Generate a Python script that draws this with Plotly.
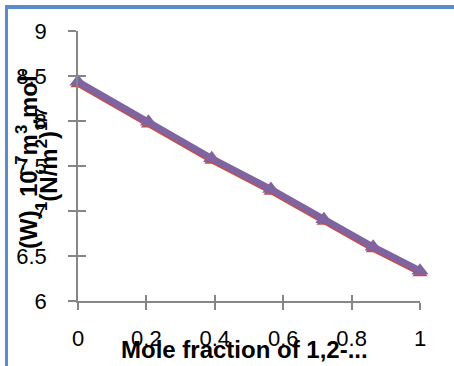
import plotly.graph_objects as go

# ---- data ----
mole_fraction = [0.0, 0.206, 0.391, 0.564, 0.719, 0.863, 1.0]
series_red = [8.41, 7.965, 7.56, 7.218, 6.883, 6.578, 6.312]
series_purple = [8.437, 7.992, 7.586, 7.244, 6.908, 6.603, 6.337]
x_tick_vals = [0, 0.2, 0.4, 0.6, 0.8, 1]
x_tick_text = ["0", "0.2", "0.4", "0.6", "0.8", "1"]
y_tick_vals = [6, 6.5, 7, 7.5, 8, 8.5, 9]
y_tick_text = ["6", "6.5", "7", "7.5", "8", "8.5", "9"]

W, H = 454, 366
ML, MR, MT, MB = 78, 34, 31, 65
PW, PH = W - ML - MR, H - MT - MB

def px_x(px):
    return (px - ML) / PW

def px_y(py):
    return (H - MB - py) / PH

AXIS_COLOR = "#868686"
FONT = "Liberation Sans, Arial, sans-serif"

fig = go.Figure()
fig.add_trace(go.Scatter(
    x=mole_fraction, y=series_red, mode="lines+markers",
    line=dict(color="#C0504D", width=5.5),
    marker=dict(symbol="triangle-up", size=13, color="#C0504D"),
    showlegend=False, cliponaxis=False))
fig.add_trace(go.Scatter(
    x=mole_fraction, y=series_purple, mode="lines+markers",
    line=dict(color="#8064A2", width=6.5),
    marker=dict(symbol="triangle-up", size=15, color="#8064A2"),
    showlegend=False, cliponaxis=False))

common_x = dict(range=[0, 1], showgrid=False, zeroline=False, fixedrange=True,
                automargin=False)
common_y = dict(range=[6, 9], showgrid=False, zeroline=False, fixedrange=True,
                automargin=False)

fig.update_layout(
    width=W, height=H,
    margin=dict(l=ML, r=MR, t=MT, b=MB, pad=0, autoexpand=False),
    paper_bgcolor="white", plot_bgcolor="white",
    font=dict(family=FONT, color="black"),
    xaxis=dict(**common_x, tickvals=x_tick_vals, ticktext=x_tick_text,
               ticks="outside", ticklen=7, tickwidth=1.5, tickcolor=AXIS_COLOR,
               showline=True, linecolor=AXIS_COLOR, linewidth=1.5,
               tickfont=dict(size=22, family=FONT), ticklabelstandoff=10),
    yaxis=dict(**common_y, tickvals=y_tick_vals, ticktext=y_tick_text,
               ticks="outside", ticklen=8, tickwidth=1.5, tickcolor=AXIS_COLOR,
               showline=True, linecolor=AXIS_COLOR, linewidth=1.5,
               tickfont=dict(size=22, family=FONT), ticklabelstandoff=17),
    xaxis2=dict(**common_x, overlaying="x", tickvals=x_tick_vals,
                ticks="inside", ticklen=6, tickwidth=1.5, tickcolor=AXIS_COLOR,
                showticklabels=False, showline=False, side="bottom"),
    yaxis2=dict(**common_y, overlaying="y", tickvals=y_tick_vals,
                ticks="inside", ticklen=8, tickwidth=1.5, tickcolor=AXIS_COLOR,
                showticklabels=False, showline=False, side="left"),
)
# dummy trace to activate overlay axes
fig.add_trace(go.Scatter(x=[None], y=[None], xaxis="x2", yaxis="y2",
                         showlegend=False, hoverinfo="skip"))

# axis titles
fig.add_annotation(
    text="<b>Mole fraction of 1,2-...</b>", xref="paper", yref="paper",
    x=px_x(244), y=px_y(349), xanchor="center", yanchor="middle",
    showarrow=False, font=dict(size=24, family=FONT, color="black"))
fig.add_annotation(
    text="<b>(W)  10<sup>-7</sup>m<sup>3</sup>.mol<sup>-</sup></b>",
    xref="paper", yref="paper", x=px_x(27), y=px_y(160),
    xanchor="center", yanchor="middle", textangle=-90,
    showarrow=False, font=dict(size=24, family=FONT, color="black"))
fig.add_annotation(
    text="<b><sup>1</sup>(N/m<sup>2</sup>)<sup>1/7</sup></b>",
    xref="paper", yref="paper", x=px_x(47), y=px_y(160),
    xanchor="center", yanchor="middle", textangle=-90,
    showarrow=False, font=dict(size=24, family=FONT, color="black"))

# blue frame (top and left edges) drawn as filled strips
FRAME = "#5B8CCB"
fig.add_shape(type="rect", xref="paper", yref="paper", layer="above",
              x0=px_x(5), x1=px_x(454), y0=px_y(9), y1=px_y(5),
              fillcolor=FRAME, line=dict(width=0))
fig.add_shape(type="rect", xref="paper", yref="paper", layer="above",
              x0=px_x(5), x1=px_x(8), y0=px_y(366), y1=px_y(5),
              fillcolor=FRAME, line=dict(width=0))

fig.write_html("out.html",
               config={"displayModeBar": False},
               post_script=("document.body.style.margin='0';"
                            "document.body.style.overflow='hidden';"
                            "window.scrollTo(0,0);"))
